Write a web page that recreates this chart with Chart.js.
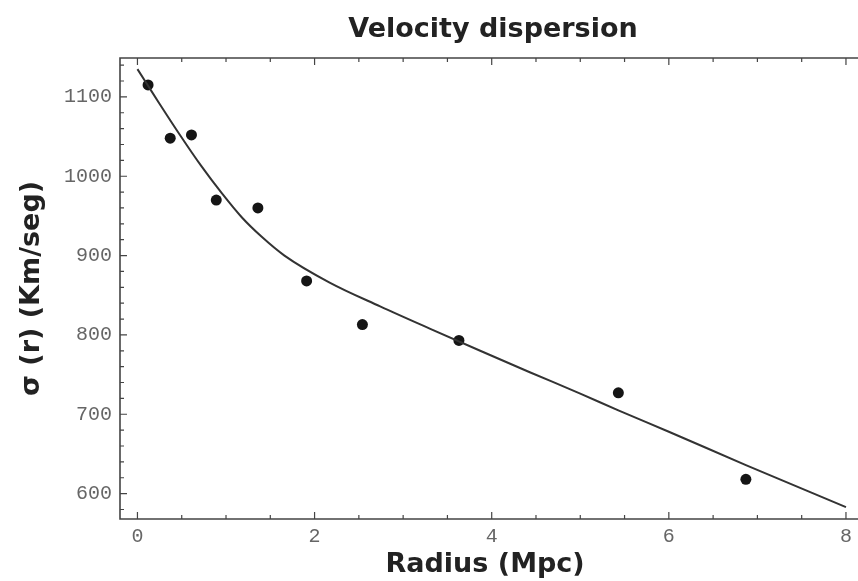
<!DOCTYPE html>
<html>
<head>
<meta charset="utf-8">
<script src="https://cdn.jsdelivr.net/npm/chart.js@4.4.1/dist/chart.umd.min.js"></script>
<style>
  html, body { margin: 0; padding: 0; background: #fff; }
</style>
</head>
<body>
<canvas id="chart" width="858" height="581"></canvas>
<script>
// measured data points (radius in Mpc, sigma in km/s)
const radius = [0.12, 0.37, 0.61, 0.89, 1.36, 1.91, 2.54, 3.63, 5.43, 6.87];
const sigma = [1115, 1048, 1052, 970, 960, 868, 813, 793, 727, 618];

// fitted curve
const fitRadius = [0, 0.12, 0.24, 0.48, 0.72, 0.95, 1.18, 1.4, 1.66, 2.17, 2.74, 3.3, 3.87, 4.43, 5.0, 5.43, 6.0, 6.87, 8.0];
const fitSigma = [1135, 1114, 1093, 1052, 1013, 979, 948, 924, 900, 866, 836, 808, 780, 753, 726, 705, 678, 636, 583];

const xTicks = [0, 2, 4, 6, 8];
const yTicks = [600, 700, 800, 900, 1000, 1100];

const titleFont = "'DejaVu Sans', sans-serif";
const tickFont = "'Liberation Mono', monospace";

// frame (the right edge is cut off in the original), inward ticks, title
const frameTicks = {
    id: 'frameTicks',
    afterDraw(chart) {
        const { ctx, chartArea: a, scales: { x, y } } = chart;
        ctx.save();
        ctx.strokeStyle = '#444';
        ctx.lineWidth = 1.6;
        ctx.beginPath();
        ctx.moveTo(chart.width, a.top);
        ctx.lineTo(a.left, a.top);
        ctx.lineTo(a.left, a.bottom);
        ctx.lineTo(chart.width, a.bottom);
        ctx.stroke();

        ctx.lineWidth = 1.2;
        ctx.beginPath();
        for (let i = 0; i <= 16; i++) {
            const v = i * 0.5;
            const px = x.getPixelForValue(v);
            const len = xTicks.includes(v) ? 7 : 4;
            ctx.moveTo(px, a.bottom); ctx.lineTo(px, a.bottom - len);
            ctx.moveTo(px, a.top); ctx.lineTo(px, a.top + len);
        }
        for (let v = 580; v <= 1140; v += 20) {
            const py = y.getPixelForValue(v);
            const len = yTicks.includes(v) ? 7 : 4;
            ctx.moveTo(a.left, py); ctx.lineTo(a.left + len, py);
        }
        ctx.stroke();

        ctx.fillStyle = '#222';
        ctx.font = "bold 27px " + titleFont;
        ctx.textAlign = 'center';
        ctx.textBaseline = 'middle';
        ctx.fillText('Velocity dispersion', 493, 30);
        ctx.restore();
    }
};

new Chart(document.getElementById('chart'), {
    type: 'scatter',
    data: {
        datasets: [{
            label: 'fit',
            data: fitRadius.map((r, i) => ({ x: r, y: fitSigma[i] })),
            showLine: true,
            borderColor: '#333',
            borderWidth: 2,
            pointRadius: 0,
            cubicInterpolationMode: 'monotone',
            fill: false
        }, {
            label: 'data',
            data: radius.map((r, i) => ({ x: r, y: sigma[i] })),
            pointRadius: 5.5,
            pointBackgroundColor: '#151515',
            pointBorderColor: '#151515',
            pointBorderWidth: 0
        }]
    },
    options: {
        responsive: false,
        animation: false,
        devicePixelRatio: 1,
        layout: { padding: { top: 58, right: 0, left: 0, bottom: 0 } },
        plugins: {
            legend: { display: false },
            tooltip: { enabled: false },
            title: { display: false }
        },
        scales: {
            x: {
                type: 'linear',
                min: -0.197,
                max: 8.048,
                afterBuildTicks: s => { s.ticks = xTicks.map(v => ({ value: v })); },
                afterFit: s => { s.height = 62; },
                grid: { display: false, drawTicks: false },
                border: { display: false },
                ticks: {
                    padding: 6,
                    color: '#666',
                    font: { family: tickFont, size: 20 },
                    callback: v => String(v)
                },
                title: {
                    display: true,
                    text: 'Radius (Mpc)',
                    color: '#222',
                    font: { family: titleFont, size: 27, weight: 'bold' },
                    padding: { top: 0, bottom: 0 }
                }
            },
            y: {
                type: 'linear',
                min: 568,
                max: 1149,
                afterBuildTicks: s => { s.ticks = yTicks.map(v => ({ value: v })); },
                afterFit: s => { s.width = 120; },
                grid: { display: false, drawTicks: false },
                border: { display: false },
                ticks: {
                    padding: 8,
                    color: '#666',
                    font: { family: tickFont, size: 20 },
                    callback: v => String(v)
                },
                title: {
                    display: true,
                    text: 'σ (r) (Km/seg)',
                    color: '#222',
                    font: { family: titleFont, size: 27, weight: 'bold' },
                    padding: { top: 16, bottom: 0 }
                }
            }
        }
    },
    plugins: [frameTicks]
});
</script>
</body>
</html>
